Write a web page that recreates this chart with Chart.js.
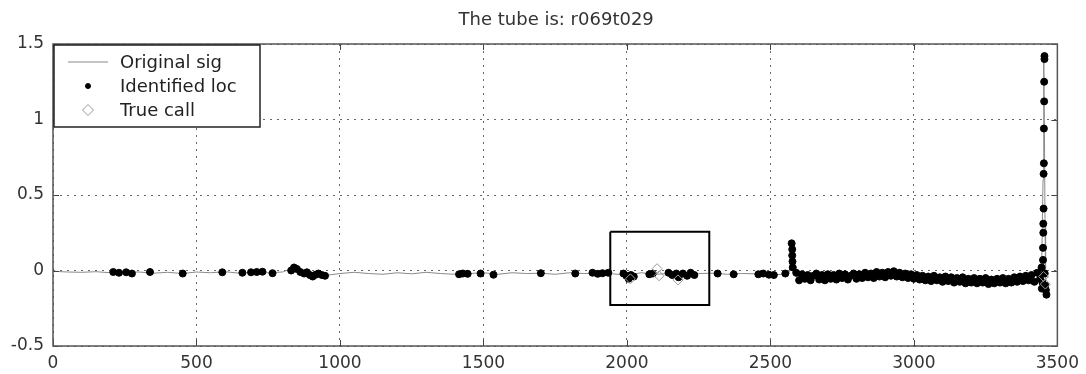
<!DOCTYPE html>
<html>
<head>
<meta charset="utf-8">
<script src="https://cdn.jsdelivr.net/npm/chart.js@4/dist/chart.umd.min.js"></script>
<style>
  body { margin: 0; background: #fff; }
  #wrap { width: 1086px; height: 374px; }
</style>
</head>
<body>
<div id="wrap"><canvas id="c"></canvas></div>
<script>
const titleText = "The tube is: r069t029";
const xTicks = [0, 500, 1000, 1500, 2000, 2500, 3000, 3500];
const yTicks = [-0.5, 0, 0.5, 1, 1.5];

// original signal (gray line)
const sigX = [0, 50, 100, 150, 200, 250, 300, 350, 400, 450, 500, 550, 600, 650, 700, 750, 800, 840, 870, 900, 930, 960,
  1000, 1050, 1100, 1150, 1200, 1250, 1300, 1350, 1400, 1450, 1500, 1550, 1600, 1650, 1700, 1750, 1800, 1850, 1900, 1950,
  2000, 2050, 2100, 2150, 2200, 2250, 2300, 2350, 2400, 2450, 2500, 2550, 2565, 2572, 2576, 2580, 2588,
  2650, 2700, 2750, 2800, 2850, 2900, 2950, 3000, 3050, 3100, 3150, 3200, 3250, 3300, 3350, 3400, 3430, 3440,
  3446, 3450, 3452, 3453, 3455, 3457, 3459, 3462];
const sigY = [-0.005, -0.01, -0.012, -0.008, -0.015, -0.012, -0.01, -0.018, -0.012, -0.02, -0.01, -0.015, -0.008, -0.018, -0.012, -0.015, -0.01, 0.02, -0.01, -0.04, -0.025, -0.03,
  -0.02, -0.012, -0.02, -0.025, -0.015, -0.022, -0.012, -0.02, -0.025, -0.02, -0.015, -0.025, -0.015, -0.02, -0.018, -0.025, -0.015, -0.02, -0.018, -0.022,
  -0.03, -0.015, -0.025, -0.02, -0.03, -0.02, -0.018, -0.025, -0.02, -0.022, -0.025, -0.028, -0.02, 0.1, 0.17, 0.08, -0.04,
  -0.045, -0.04, -0.038, -0.035, -0.03, -0.025, -0.022, -0.03, -0.042, -0.05, -0.058, -0.065, -0.068, -0.07, -0.065, -0.05, -0.03, -0.01,
  0.1, 0.6, 1.2, 1.41, 0.9, 0.3, -0.05, -0.15];

// identified locations (black dots)
const locX = [210, 230, 255, 275, 338, 452, 590, 660, 690, 710, 730, 765,
  830, 840, 850, 862, 875, 885, 895, 905, 915, 925, 937, 948,
  1415, 1428, 1445, 1490, 1535, 1700, 1820, 1880, 1898, 1915, 1935,
  1988, 1998, 2006, 2014, 2024, 2078, 2090, 2145, 2158, 2172, 2180, 2195, 2210, 2222, 2235,
  2316, 2372, 2458, 2475, 2495, 2512, 2552,
  2574, 2576, 2576, 2577, 2578,
  2590, 2600, 2610, 2620, 2630, 2640, 2650, 2660, 2670, 2680, 2690, 2700, 2710, 2720, 2730, 2740, 2750, 2760, 2770, 2780, 2790,
  2800, 2810, 2820, 2830, 2840, 2850, 2860, 2870, 2880, 2890, 2900, 2910, 2920, 2930, 2940, 2950, 2960, 2970, 2980, 2990,
  3000, 3010, 3020, 3030, 3040, 3050, 3060, 3070, 3080, 3090, 3100, 3110, 3120, 3130, 3140, 3150, 3160, 3170, 3180, 3190,
  3200, 3210, 3220, 3230, 3240, 3250, 3260, 3270, 3280, 3290, 3300, 3310, 3320, 3330, 3340, 3350, 3360, 3370, 3380, 3390,
  3400, 3410, 3420, 3430, 3440,
  3445, 3446, 3448, 3450, 3450, 3451, 3451, 3452, 3452, 3453, 3453, 3454, 3454, 3455, 3455, 3456, 3458, 3460, 3462];
const locY = [-0.01, -0.015, -0.012, -0.02, -0.01, -0.02, -0.012, -0.015, -0.012, -0.01, -0.008, -0.018,
  0.0, 0.02, 0.01, -0.01, -0.02, -0.012, -0.03, -0.04, -0.028, -0.02, -0.03, -0.035,
  -0.025, -0.02, -0.022, -0.02, -0.028, -0.018, -0.02, -0.015, -0.022, -0.018, -0.015,
  -0.02, -0.035, -0.055, -0.03, -0.04, -0.025, -0.02, -0.015, -0.03, -0.02, -0.045, -0.02, -0.035, -0.015, -0.03,
  -0.02, -0.025, -0.025, -0.02, -0.028, -0.03, -0.02,
  0.18, 0.14, 0.1, 0.06, 0.02,
  -0.015, -0.065, -0.025, -0.055, -0.03, -0.065, -0.035, -0.02, -0.06, -0.03, -0.065, -0.025, -0.055, -0.03, -0.06, -0.02, -0.05, -0.025, -0.06, -0.035, -0.02,
  -0.055, -0.025, -0.05, -0.015, -0.045, -0.02, -0.05, -0.01, -0.04, -0.015, -0.045, -0.01, -0.035, -0.005, -0.04, -0.015, -0.045, -0.02, -0.05, -0.025,
  -0.055, -0.03, -0.06, -0.035, -0.065, -0.04, -0.07, -0.035, -0.065, -0.045, -0.075, -0.04, -0.07, -0.045, -0.08, -0.05, -0.075, -0.045, -0.085, -0.055,
  -0.08, -0.05, -0.085, -0.055, -0.08, -0.05, -0.09, -0.06, -0.085, -0.055, -0.08, -0.05, -0.085, -0.055, -0.08, -0.045, -0.075, -0.04, -0.07, -0.035,
  -0.065, -0.03, -0.075, -0.015, -0.055,
  0.02, -0.12, -0.08, 0.07, 0.15, 0.25, 0.31, 0.41, 0.64, 0.71, 0.94, 1.12, 1.25, 1.40, 1.42, -0.02, -0.1, -0.13, -0.16];

// true calls (gray diamonds)
const trueX = [2012, 2105, 2112, 2178, 3452, 3458];
const trueY = [-0.055, 0.012, -0.035, -0.062, -0.04, -0.09];

// zoom box drawn on the axes
const boxX = [1942, 2287, 2287, 1942, 1942];
const boxY = [0.257, 0.257, -0.228, -0.228, 0.257];

const pts = (xs, ys) => xs.map((x, i) => ({ x: x, y: ys[i] }));
const FONT = "'DejaVu Sans', sans-serif";

const frame = {
  id: "frame",
  afterDraw(chart) {
    const { ctx, chartArea: a, scales } = chart;
    const xs = scales.x, ys = scales.y;
    ctx.save();
    // ticks pointing inward on all four sides
    ctx.strokeStyle = "#444";
    ctx.lineWidth = 1;
    ctx.beginPath();
    xTicks.forEach(v => {
      const p = Math.round(xs.getPixelForValue(v)) + 0.5;
      ctx.moveTo(p, a.bottom); ctx.lineTo(p, a.bottom - 6);
      ctx.moveTo(p, a.top); ctx.lineTo(p, a.top + 6);
    });
    yTicks.forEach(v => {
      const p = Math.round(ys.getPixelForValue(v)) + 0.5;
      ctx.moveTo(a.left, p); ctx.lineTo(a.left + 6, p);
      ctx.moveTo(a.right, p); ctx.lineTo(a.right - 6, p);
    });
    ctx.stroke();
    // axes box
    ctx.lineWidth = 1.5;
    ctx.strokeStyle = "#555";
    ctx.strokeRect(a.left, a.top, a.right - a.left, a.bottom - a.top);

    // title
    ctx.fillStyle = "#333";
    ctx.font = "18px " + FONT;
    ctx.textAlign = "center";
    ctx.textBaseline = "middle";
    ctx.fillText(titleText, (a.left + a.right) / 2 + 1, 20);

    // legend
    const lx = a.left + 1, ly = a.top + 1, lw = 206, lh = 82;
    ctx.fillStyle = "#fff";
    ctx.fillRect(lx, ly, lw, lh);
    ctx.lineWidth = 1.5;
    ctx.strokeStyle = "#222";
    ctx.strokeRect(lx, ly, lw, lh);
    const rows = [ly + 17, ly + 41, ly + 65];
    ctx.strokeStyle = "#888";
    ctx.lineWidth = 1;
    ctx.beginPath();
    ctx.moveTo(lx + 14, rows[0]); ctx.lineTo(lx + 54, rows[0]);
    ctx.stroke();
    ctx.fillStyle = "#000";
    ctx.strokeStyle = "#000";
    Chart.helpers.drawPoint(ctx, { pointStyle: "circle", radius: 2.5, borderWidth: 1 }, lx + 34, rows[1]);
    ctx.strokeStyle = "#999";
    ctx.fillStyle = "#fff";
    Chart.helpers.drawPoint(ctx, { pointStyle: "rectRot", radius: 5.5, borderWidth: 1 }, lx + 34, rows[2]);
    ctx.fillStyle = "#222";
    ctx.font = "18px " + FONT;
    ctx.textAlign = "left";
    ctx.textBaseline = "middle";
    ["Original sig", "Identified loc", "True call"].forEach((t, i) => ctx.fillText(t, lx + 66, rows[i] + 1));
    ctx.restore();
  }
};

new Chart(document.getElementById("c"), {
  type: "scatter",
  data: {
    datasets: [
      { label: "Original sig", data: pts(sigX, sigY), showLine: true, borderColor: "#8a8a8a", borderWidth: 1,
        pointRadius: 0, order: 4 },
      { label: "Identified loc", data: pts(locX, locY), pointRadius: 3.5, pointBackgroundColor: "#000",
        pointBorderColor: "#000", pointBorderWidth: 1, order: 3 },
      { label: "True call", data: pts(trueX, trueY), pointStyle: "rectRot", pointRadius: 5,
        pointBackgroundColor: "rgba(0,0,0,0)", pointBorderColor: "#999", pointBorderWidth: 1, order: 2 },
      { label: "box", data: pts(boxX, boxY), showLine: true, borderColor: "#000", borderWidth: 2,
        pointRadius: 0, order: 1 }
    ]
  },
  options: {
    responsive: true,
    maintainAspectRatio: false,
    animation: false,
    events: [],
    layout: { padding: { top: 44, right: 25, bottom: 0, left: 0 } },
    plugins: { legend: { display: false }, tooltip: { enabled: false }, title: { display: false } },
    scales: {
      x: {
        type: "linear", min: 0, max: 3500,
        afterBuildTicks: s => { s.ticks = xTicks.map(v => ({ value: v })); },
        afterFit: s => { s.height = 28; },
        ticks: { callback: v => String(v), color: "#333", font: { family: FONT, size: 17 }, padding: 7, maxRotation: 0 },
        grid: { color: "#666", drawTicks: false },
        border: { display: false, dash: [2, 5] }
      },
      y: {
        type: "linear", min: -0.5, max: 1.5,
        afterBuildTicks: s => { s.ticks = yTicks.map(v => ({ value: v })); },
        afterFit: s => { s.width = 53; },
        ticks: { callback: v => String(v), color: "#333", font: { family: FONT, size: 17 }, padding: 9 },
        grid: { color: "#666", drawTicks: false },
        border: { display: false, dash: [2, 5] }
      }
    }
  },
  plugins: [frame]
});
</script>
</body>
</html>
